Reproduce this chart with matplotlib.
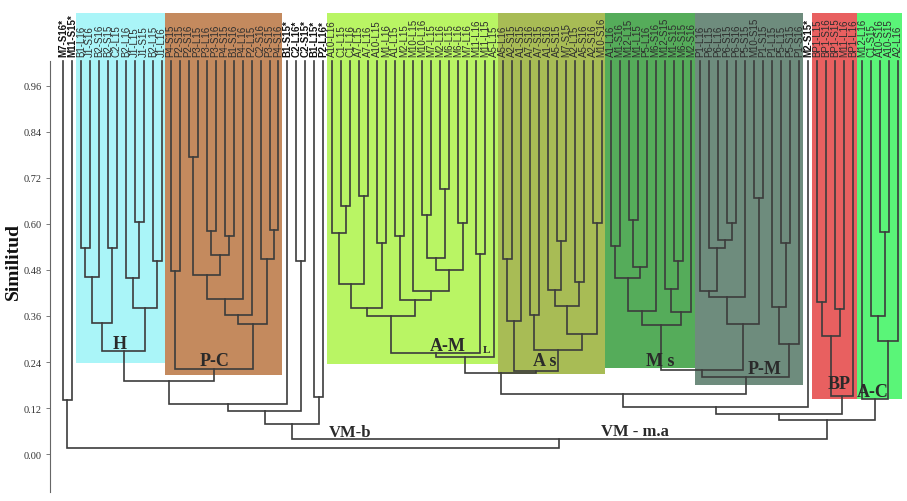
import matplotlib
matplotlib.use("Agg")
import matplotlib.pyplot as plt
from matplotlib.patches import Rectangle

# ---------------- data ----------------
leaf_labels = [
    "M7-S16*", "M11-S15*",
    "B1-L16", "J1-S16", "B2-S16", "B2-S15", "C2-L15", "B2-L16", "J1-L15", "J1-S15", "B2-L15", "J1-L16",
    "P4-S15", "P2-S15", "P2-S16", "P3-L15", "P3-L16", "P3-S16", "P4-S15", "B1-S16", "P4-L16", "P2-L15",
    "C2-S16", "P3-S15", "P4-S16",
    "B1-S15*", "C2-L16*", "C2-S15*", "B1-L15*", "P2-L16*",
    "A10-L16", "C1-L15", "C1-L16", "A7-L15", "A7-L16", "A10-L15", "M1-L16", "A1-L15", "M2-L15", "M10-L15",
    "M10-L16", "M7-L15", "M2-L16", "M6-L15", "M6-L16", "M7-L16", "M11-L16", "M11-L15", "A5-L15",
    "A5-L16", "A2-S15", "A1-S15", "A7-S16", "A7-S15", "A1-S16", "A5-S15", "M7-S15", "A2-L15", "A5-S16",
    "A2-S16", "M10-S16",
    "A1-L16", "M1-S16", "M12-L15", "M1-L15", "P5-L16", "M6-S16", "M12-S15", "M1-S15", "M6-S15", "M2-S16",
    "P1-L16", "P6-L15", "P6-L16", "P6-S15", "P6-S16", "P5-S15", "M10-S15", "P1-S15", "P1-L15", "P5-L15",
    "P5-S15", "P1-S16",
    "M2-S15*",
    "BP1-L15", "BP1-S16", "BP1-S15", "M11-L16", "BP1-L16",
    "M12-L16", "C1-S15", "A10-S16", "A10-S15", "A2-L16",
]

# merges: (left, right, similarity); ints are leaf indices
H_left = (((2, 3, 0.537), 4, 0.462), (5, 6, 0.537), 0.342)
H_right = ((7, (8, 9, 0.605), 0.459), (10, 11, 0.504), 0.381)
H = (H_left, H_right, 0.269)

PC_a = ((((14, 15, 0.775), ((16, 17, 0.582), (18, 19, 0.569), 0.519), 0.467), 20, 0.404), 21, 0.363)
PC_b = (22, (23, 24, 0.584), 0.509)
PC = ((12, 13, 0.477), (PC_a, PC_b, 0.339), 0.222)

LEFT = ((((H, PC, 0.190), 25, 0.130), (26, 27, 0.503), 0.112), (28, 29, 0.149), 0.078)

AML_a = (((30, (31, 32, 0.647), 0.577), (33, 34, 0.673), 0.443), (35, 36, 0.550), 0.381)
AML_b = ((37, 38, 0.569),
         (39, (((40, 41, 0.624), (42, 43, 0.691), 0.511), (44, 45, 0.603), 0.480), 0.425), 0.402)
AML = (((AML_a, AML_b, 0.360), (46, 47, 0.522), 0.264), 48, 0.253)

AS = (((49, 50, 0.509), 51, 0.347),
      ((52, 53, 0.363),
       (((54, (55, 56, 0.556), 0.428), (57, 58, 0.449), 0.386), (59, 60, 0.603), 0.313), 0.271), 0.217)

MS = ((((61, 62, 0.543), ((63, 64, 0.611), 65, 0.488), 0.459), 66, 0.373),
      ((67, (68, 69, 0.504), 0.430), 70, 0.370), 0.337)

PM_a = (((71, (72, (73, (74, 75, 0.603), 0.558), 0.537), 0.425), 76, 0.410), (77, 78, 0.668), 0.339)
PM_b = ((79, (80, 81, 0.550), 0.384), 82, 0.287)
MSPM = ((MS, PM_a, 0.220), PM_b, 0.201)

BP = (((84, 85, 0.397), (86, 87, 0.378), 0.308), 88, 0.151)
AC = (89, ((90, (91, 92, 0.579), 0.360), 93, 0.295), 0.143)

RIGHT = (((((AML, AS, 0.211), MSPM, 0.157), 83, 0.123), BP, 0.104), AC, 0.089)
ROOT = ((0, 1, 0.141), (LEFT, RIGHT, 0.039), 0.016)

# coloured cluster boxes: name, first leaf, last leaf, colour, lower similarity
group_names = ["H", "P-C", "A-M", "A s", "M s", "P-M", "BP", "A-C"]
group_first = [2, 12, 30, 49, 61, 71, 84, 89]
group_last = [11, 24, 48, 60, 70, 82, 88, 93]
group_colors = ["#aaf5f8", "#c48a5e", "#b9f564", "#a8bc55", "#55ac5a", "#6e8c7d", "#e86060", "#5af578"]
group_bottom = [0.237, 0.206, 0.235, 0.209, 0.224, 0.180, 0.143, 0.143]

yticks = [0.00, 0.12, 0.24, 0.36, 0.48, 0.60, 0.72, 0.84, 0.96]

# ---------------- figure ----------------
W, Hh = 907, 502
fig = plt.figure(figsize=(W / 100, Hh / 100), dpi=100)
ax = fig.add_axes([50 / W, 9 / Hh, 855 / W, 431 / Hh])
TOP = 1.025
ax.set_ylim(-0.099, TOP)
ax.set_xlim(-1.448, 93.78)

BOX_TOP = 1.151
for name, a, b, c, bot in zip(group_names, group_first, group_last, group_colors, group_bottom):
    x0 = a - 0.6
    x1 = b + 0.4
    ax.add_patch(Rectangle((x0, bot), x1 - x0, BOX_TOP - bot, facecolor=c,
                           edgecolor="none", clip_on=False, zorder=1))

LINE = "#3c3c3c"


def draw(node):
    if isinstance(node, int):
        return float(node), TOP
    l, r, h = node
    xl, hl = draw(l)
    xr, hr = draw(r)
    ax.plot([xl, xl, xr, xr], [hl, h, h, hr], color=LINE, lw=1.2,
            solid_joinstyle="miter", zorder=3, clip_on=False)
    return (xl + xr) / 2, h


draw(ROOT)

for i, lab in enumerate(leaf_labels):
    star = lab.endswith("*")
    ax.text(i, TOP + 0.012, lab, rotation=90, ha="center", va="bottom",
            fontsize=7.0, family="Liberation Sans", color="#111111" if star else "#2e2e2e",
            fontweight="bold" if star else "normal", clip_on=False, zorder=4)

serif = "Liberation Serif"
txt = dict(family=serif, fontweight="bold", color="#2a2a2a", ha="center", va="center", zorder=5)
ax.text(6.35, 0.287, "H", fontsize=13, **txt)
ax.text(16.9, 0.245, "P-C", fontsize=13, **txt)
ax.text(42.9, 0.282, "A-M", fontsize=13, **txt)
ax.text(47.2, 0.272, "L", fontsize=8, **txt)
ax.text(53.7, 0.243, "A s", fontsize=13, **txt)
ax.text(66.5, 0.243, "M s", fontsize=13, **txt)
ax.text(78.1, 0.224, "P-M", fontsize=13, **txt)
ax.text(86.5, 0.183, "BP", fontsize=13, **txt)
ax.text(90.2, 0.164, "A-C", fontsize=13, **txt)
ax.text(32.0, 0.057, "VM-b", fontsize=12, **txt)
ax.text(63.7, 0.060, "VM - m.a", fontsize=12, **txt)

for s in ["top", "right", "bottom"]:
    ax.spines[s].set_visible(False)
ax.spines["left"].set_color("#666666")
ax.spines["left"].set_linewidth(0.8)
ax.set_xticks([])
ax.set_yticks(yticks)
ax.set_yticklabels([f"{v:.2f}" for v in yticks], family=serif, fontsize=7.5, color="#333333")
ax.tick_params(axis="y", length=3, width=0.6, color="#666666", pad=3)

fig.text(13 / W, 1 - 262 / Hh, "Similitud", rotation=90, ha="center", va="center",
         family=serif, fontweight="bold", fontsize=14, color="#111111")

fig.savefig("out.png", dpi=100)
